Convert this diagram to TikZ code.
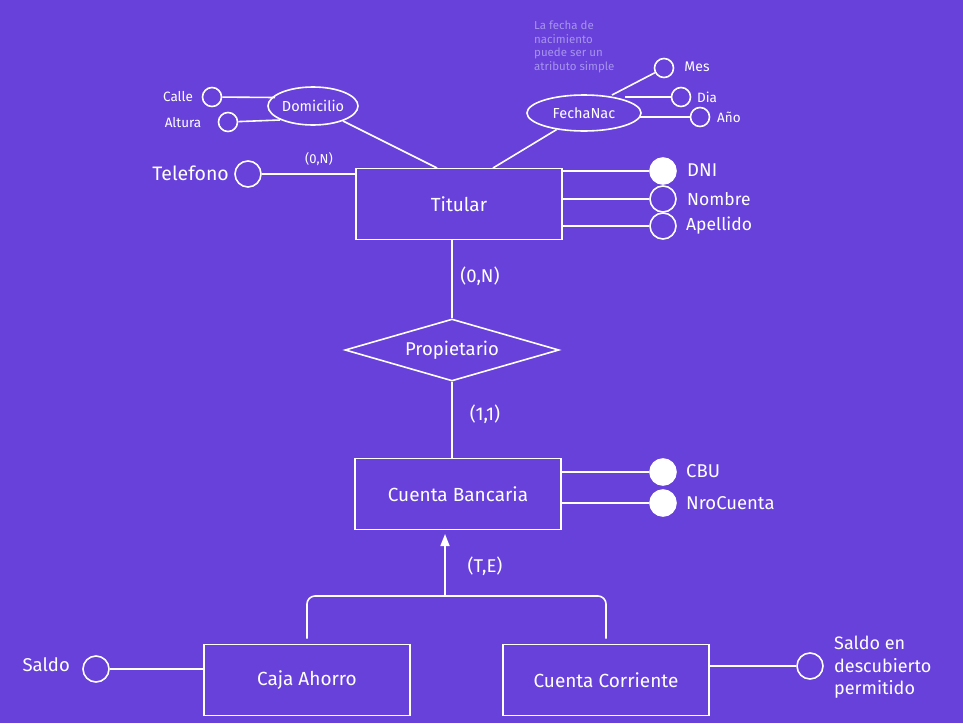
\documentclass[tikz,border=0pt]{standalone}
\usepackage{fontspec}
\setmainfont{Fira Sans}
\usetikzlibrary{shapes.geometric,arrows.meta}
\definecolor{bgv}{HTML}{6741D9}
\definecolor{notec}{HTML}{A794EE}
\begin{document}
\begin{tikzpicture}[x=1pt,y=-1pt,
  ln/.style={draw=white,line width=1.6pt},
  ent/.style={draw=white,line width=1.6pt,rectangle,minimum width=206pt,minimum height=71pt,text=white,font=\fontsize{19}{22}\selectfont},
  att/.style={draw=white,line width=1.6pt,circle,minimum size=26pt,inner sep=0pt},
  katt/.style={att,fill=white},
  satt/.style={draw=white,line width=1.6pt,circle,minimum size=19pt,inner sep=0pt},
  comp/.style={draw=white,line width=1.6pt,ellipse,inner sep=0pt,text=white,font=\fontsize{14.5}{17}\selectfont},
  lbl/.style={text=white,font=\fontsize{18.5}{22}\selectfont,inner sep=0pt},
  slbl/.style={text=white,font=\fontsize{13.5}{16}\selectfont,inner sep=0pt},
  card/.style={text=white,font=\fontsize{18.5}{22}\selectfont,inner sep=0pt}]
\fill[bgv] (0,0) rectangle (963,723);
\useasboundingbox (0,0) rectangle (963,723);

% Titular
\node[ent] (tit) at (459,204) {Titular};
\node[att] (tel) at (248,174) {};
\node[lbl,anchor=east,font=\fontsize{19.5}{23}\selectfont] (tell) at (229,173) {Telefono};
\node[slbl,font=\fontsize{13}{15}\selectfont] (telc) at (319,159) {(0,N)};
\draw[ln] (tel) -- (tit.west |- tel);

% Domicilio
\node[comp,minimum width=90pt,minimum height=38pt] (dom) at (313,106) {Domicilio};
\node[satt] (calle) at (212,97) {};
\node[slbl] (callel) at (178,97) {Calle};
\node[satt] (alt) at (228,122) {};
\node[slbl] (altl) at (183,123) {Altura};
\draw[ln] (calle) -- (275,97.5);
\draw[ln] (alt) -- (280,120);
\draw[ln] (dom) -- (437,168);

% FechaNac
\node[comp,minimum width=114pt,minimum height=36pt] (fn) at (584,113) {FechaNac};
\node[satt] (mes) at (664,68) {};
\node[slbl,font=\fontsize{14}{16}\selectfont] (mesl) at (697,67) {Mes};
\node[satt] (dia) at (681,97) {};
\node[slbl] (dial) at (707,97) {Dia};
\node[satt] (anio) at (700,117) {};
\node[slbl] (aniol) at (729,117) {Año};
\draw[ln] (612,95) -- (mes);
\draw[ln] (625,97) -- (dia);
\draw[ln] (640,117) -- (anio);
\draw[ln] (fn) -- (493,168);

\node[text=notec,font=\fontsize{11.5}{13.5}\selectfont,align=left,anchor=north west,inner sep=0pt] (note) at (534,21) {La fecha de\\nacimiento\\puede ser un\\atributo simple};

% Titular attributes
\node[katt] (dni) at (663,171) {};
\node[lbl,anchor=west] (dnil) at (687,170) {DNI};
\node[att] (nom) at (663,199) {};
\node[lbl,anchor=west,font=\fontsize{17.5}{21}\selectfont] (noml) at (687,199) {Nombre};
\node[att] (ape) at (663,226) {};
\node[lbl,anchor=west,font=\fontsize{17.5}{21}\selectfont] (apel) at (686,226) {Apellido};
\draw[ln] (tit.east |- dni) -- (dni);
\draw[ln] (tit.east |- nom) -- (nom);
\draw[ln] (tit.east |- ape) -- (ape);

% Relationship
\node[draw=white,line width=1.6pt,diamond,aspect=3.45,minimum width=214pt,minimum height=62pt,inner sep=0pt,text=white,font=\fontsize{18.5}{22}\selectfont] (prop) at (452,350) {Propietario};
\node[ent] (cb) at (458,494) {Cuenta Bancaria};
\draw[ln] (tit.south -| prop.north) -- (prop.north);
\draw[ln] (prop.south) -- (cb.north -| prop.south);
\node[card] (c1) at (480,276) {(0,N)};
\node[card] (c2) at (485,414) {(1,1)};

% Cuenta Bancaria attributes
\node[katt] (cbu) at (663,472) {};
\node[lbl,anchor=west] (cbul) at (686,471) {CBU};
\node[katt] (nro) at (663,503) {};
\node[lbl,anchor=west] (nrol) at (686,503) {NroCuenta};
\draw[ln] (cb.east |- cbu) -- (cbu);
\draw[ln] (cb.east |- nro) -- (nro);

% Subtypes
\node[ent] (caja) at (307,680) {Caja Ahorro};
\node[ent] (cc) at (606,680) {Cuenta Corriente};
\coordinate (jn) at (445,596);
\coordinate (tip) at (445,534);
\draw[ln,rounded corners=8pt] ([yshift=5pt]caja.north) |- (jn);
\draw[ln,rounded corners=8pt] ([yshift=5pt]cc.north) |- (jn);
\draw[ln,-{Triangle[length=12pt,width=9pt]}] (jn) -- (tip);
\node[card] (te) at (485,566) {(T,E)};

\node[att] (sal) at (96,669) {};
\node[lbl,anchor=east] (sall) at (70,665) {Saldo};
\draw[ln] (sal) -- (caja.west |- sal);
\node[att] (sdp) at (810,666) {};
\node[lbl,anchor=north west,align=left,font=\fontsize{18}{22.5}\selectfont] (sdpl) at (834,636) {Saldo en\\descubierto\\permitido};
\draw[ln] (cc.east |- sdp) -- (sdp);
\end{tikzpicture}
\end{document}
